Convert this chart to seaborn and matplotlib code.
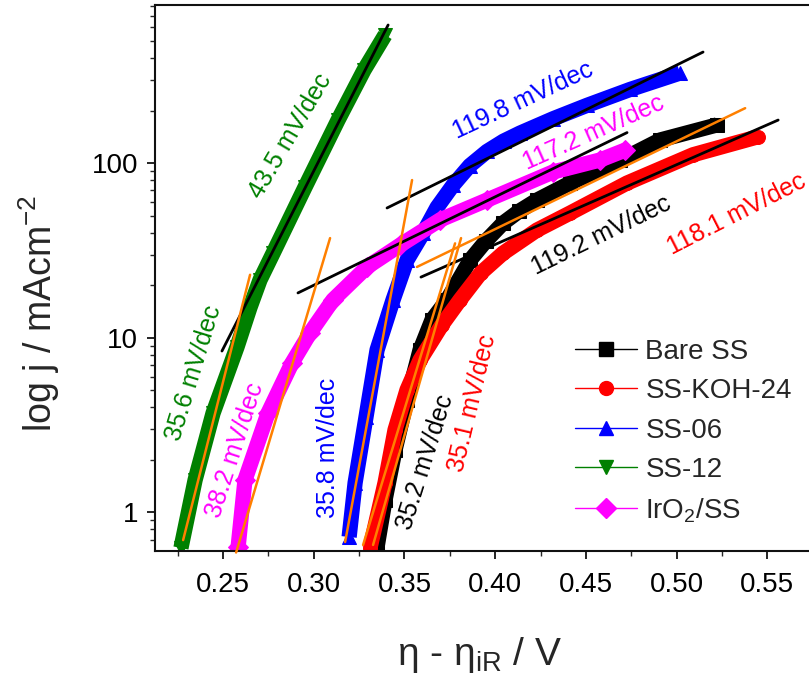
import matplotlib
matplotlib.use("Agg")
import matplotlib.pyplot as plt
from matplotlib.lines import Line2D
from matplotlib.ticker import LogLocator, MultipleLocator, FuncFormatter, NullFormatter
import pandas as pd
import seaborn as sns

# ---- Tafel data: iR-corrected overpotential (V) vs current density (mA cm^-2) ----
samples = ["Bare SS", "SS-KOH-24", "SS-06", "SS-12", "IrO$_2$/SS"]

bare_ss_eta = [0.3349, 0.3393, 0.3448, 0.3514, 0.3586, 0.3652, 0.3735, 0.3862,
               0.3950, 0.4044, 0.4130, 0.4231, 0.4413, 0.4689, 0.4909, 0.5223]
bare_ss_j = [0.634, 1.18, 2.28, 4.41, 8.53, 12.7, 16.5, 27.9,
             36.0, 45.5, 53.0, 61.6, 77.1, 104, 136, 166]

koh24_eta = [0.3310, 0.3393, 0.3448, 0.3514, 0.3586, 0.3707, 0.3806, 0.3920,
             0.4044, 0.4231, 0.4413, 0.4727, 0.5091, 0.5449]
koh24_j = [0.626, 1.48, 2.97, 5.03, 7.47, 11.9, 16.5, 23.5,
           30.6, 41.5, 51.9, 77.1, 112, 142]

ss06_eta = [0.3195, 0.3228, 0.3288, 0.3349, 0.3437, 0.3514, 0.3603, 0.3680,
            0.3768, 0.3860, 0.3955, 0.4046, 0.4137, 0.4319, 0.4507, 0.4744, 0.5019]
ss06_j = [0.724, 1.48, 3.52, 8.53, 16.5, 27.9, 39.9, 56.0,
          75.0, 97.0, 117, 134, 149, 180, 215, 265, 329]

ss12_eta = [0.2268, 0.2346, 0.2445, 0.2577, 0.2649, 0.2704, 0.2776, 0.2952,
            0.3134, 0.3277, 0.3393]
ss12_j = [0.626, 1.535, 3.71, 8.87, 15.0, 21.5, 30.6, 73.1,
          177, 342, 543]

iro2_eta = [0.2583, 0.2621, 0.2748, 0.2880, 0.2980, 0.3106, 0.3294, 0.3476,
            0.3696, 0.3955, 0.4319, 0.4578, 0.4716]
iro2_j = [0.634, 1.535, 3.71, 7.18, 10.7, 16.5, 25.5, 34.0,
          47.4, 61.6, 89.2, 104.5, 119]

series_eta = [bare_ss_eta, koh24_eta, ss06_eta, ss12_eta, iro2_eta]
series_j = [bare_ss_j, koh24_j, ss06_j, ss12_j, iro2_j]

colors = ["#000000", "#FF0000", "#0000FF", "#008000", "#FF00FF"]
markers = ["s", "o", "^", "v", "D"]

# ---- Linear Tafel fits (segment end points) ----
black_fit_eta = [(0.2494, 0.3410), (0.2913, 0.4727), (0.3404, 0.5146), (0.3591, 0.5560)]
black_fit_j = [(8.41, 620), (18.1, 150), (55.5, 434), (22.3, 177)]
orange_fit_eta = [(0.2280, 0.2649), (0.2572, 0.3090), (0.3173, 0.3542),
                  (0.3272, 0.3779), (0.3327, 0.3812), (0.3569, 0.5378)]
orange_fit_j = [(0.695, 23.0), (0.59, 37.3), (0.678, 80.2),
                (0.652, 34.8), (0.652, 37.3), (25.5, 207)]

# ---- Tafel slope annotations ----
slope_text = ["43.5 mV/dec", "35.6 mV/dec", "38.2 mV/dec", "35.8 mV/dec",
              "35.2 mV/dec", "35.1 mV/dec", "119.8 mV/dec", "117.2 mV/dec",
              "119.2 mV/dec", "118.1 mV/dec"]
slope_color = ["#008000", "#008000", "#FF00FF", "#0000FF", "#000000",
               "#FF0000", "#0000FF", "#FF00FF", "#000000", "#FF0000"]
slope_eta = [0.2869, 0.2340, 0.2566, 0.3079, 0.3614, 0.3873, 0.4154, 0.4545, 0.4584, 0.5330]
slope_j = [143, 6.3, 2.28, 2.34, 1.95, 4.24, 230, 149, 38.8, 51.3]
slope_rot = [59.6, 73, 72, 90, 72.5, 76.6, 25, 24, 26, 27]

# ---- Styling ----
sns.set_theme(style="ticks")
plt.rcParams.update({
    "font.family": ["Liberation Sans", "DejaVu Sans"],
    "mathtext.fontset": "custom",
    "mathtext.rm": "Liberation Sans",
    "mathtext.it": "Liberation Sans:italic",
    "mathtext.bf": "Liberation Sans:bold",
    "axes.linewidth": 1.5,
})

frames = []
for name, eta, j in zip(samples, series_eta, series_j):
    frames.append(pd.DataFrame({"eta": eta, "j": j, "sample": name}))
df = pd.concat(frames, ignore_index=True)

fig = plt.figure(figsize=(8.09, 6.86), dpi=100)
ax = fig.add_axes([0.1916, 0.1972, 0.8129, 0.7955])

sns.lineplot(data=df, x="eta", y="j", hue="sample", style="sample",
             hue_order=samples, style_order=samples,
             palette=dict(zip(samples, colors)),
             markers=dict(zip(samples, markers)), dashes=False,
             estimator=None, sort=False, linewidth=11, markersize=10,
             legend=False, ax=ax)
for line in ax.lines:
    line.set_markeredgecolor(line.get_color())
    line.set_solid_capstyle("butt")
    line.set_solid_joinstyle("round")

for (e0, e1), (j0, j1) in zip(black_fit_eta, black_fit_j):
    ax.plot([e0, e1], [j0, j1], color="black", lw=2.0, clip_on=False, zorder=5)
for (e0, e1), (j0, j1) in zip(orange_fit_eta, orange_fit_j):
    ax.plot([e0, e1], [j0, j1], color="#FF8000", lw=1.8, clip_on=False, zorder=6)

for txt, c, e, j, r in zip(slope_text, slope_color, slope_eta, slope_j, slope_rot):
    ax.text(e, j, txt, color=c, fontsize=18, rotation=r, rotation_mode="anchor",
            ha="center", va="center", zorder=7)

ax.set_yscale("log")
ax.set_xlim(0.2125, 0.575)
ax.set_ylim(0.604, 807)

ax.xaxis.set_major_locator(MultipleLocator(0.05))
ax.xaxis.set_minor_locator(MultipleLocator(0.025))
ax.xaxis.set_major_formatter(FuncFormatter(lambda v, _: f"{v:.2f}"))
ax.yaxis.set_major_locator(LogLocator(base=10))
ax.yaxis.set_minor_locator(LogLocator(base=10, subs=range(2, 10)))
ax.yaxis.set_major_formatter(FuncFormatter(lambda v, _: f"{v:g}"))
ax.yaxis.set_minor_formatter(NullFormatter())

ax.tick_params(which="major", direction="out", length=6, width=1.2,
               labelsize=20, pad=6, colors="black")
ax.tick_params(which="minor", direction="out", length=3.5, width=1.0)
ax.tick_params(axis="x", which="major", pad=9)
for s in ["left", "bottom", "top"]:
    ax.spines[s].set_color("#111111")
ax.spines["right"].set_visible(False)

ax.set_xlabel("η - η$_{\\mathrm{iR}}$ / V", fontsize=28)
ax.set_ylabel("log j / mAcm$^{-2}$", fontsize=27)
ax.xaxis.set_label_coords(0.494, -0.154)
ax.yaxis.set_label_coords(-0.1414, 0.435)

handles = [Line2D([], [], color=c, lw=1.0, marker=m, ms=10, mec=c, mfc=c)
           for c, m in zip(colors, markers)]
ax.legend(handles, samples, loc="center left", bbox_to_anchor=(0.600, 0.218),
          frameon=False, fontsize=20, handlelength=2.25, handletextpad=0.3,
          labelspacing=0.48, borderpad=0.4)

fig.savefig("out.png", dpi=100)
